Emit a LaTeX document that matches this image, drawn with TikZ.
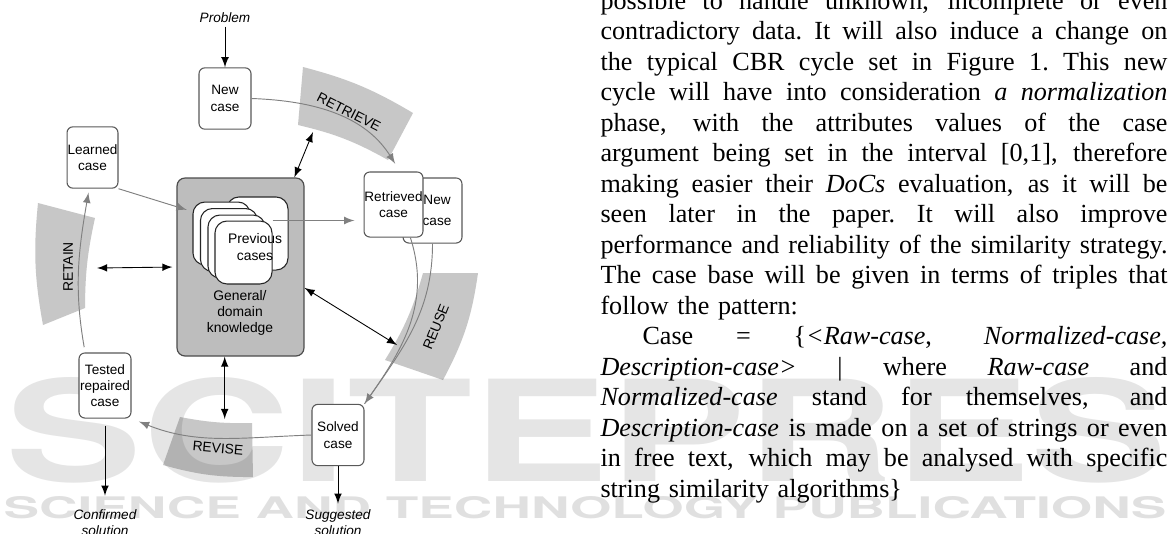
\documentclass[tikz,border=0pt]{standalone}
\usepackage{graphicx}
\usepackage{fontspec}
\setmainfont{Liberation Serif}
\newfontfamily\cyclefont{Liberation Sans}
\newfontfamily\markfont{TeX Gyre Heros}
\usetikzlibrary{arrows}

\newlength{\colw}
\setlength{\colw}{212.6pt}
% one justified line of the text column
\newcommand{\fullline}[1]{\makebox[\colw][s]{\spaceskip=0.25em plus 1em minus 0.04em\xspaceskip=\spaceskip #1}}

\tikzset{
  casebox/.style={draw=black!65, line width=0.4pt, rounded corners=2.2pt, fill=white,
    inner sep=0pt, align=center, font=\cyclefont\fontsize{5.1}{6.1}\selectfont,
    minimum width=19.5pt, minimum height=23pt},
  card/.style={draw=black!85, line width=0.4pt, rounded corners=4.5pt, fill=white,
    inner sep=0pt, minimum width=21.4pt, minimum height=23.6pt},
  band/.style={fill=black!22},
  phase/.style={inner sep=0pt, font=\cyclefont\fontsize{5.2}{6.1}\selectfont},
  cyc/.style={->, draw=black!50, line width=0.35pt},
  link/.style={<->, line width=0.33pt},
  flow/.style={->, line width=0.33pt},
  outtext/.style={inner sep=0pt, align=center, font=\cyclefont\itshape\fontsize{5.1}{6.1}\selectfont}
}

\begin{document}
\begin{tikzpicture}[x=0.375pt, y=-0.375pt, >=latex]
  \useasboundingbox[fill=white] (0,0) rectangle (1170,533);

  % phase bands
  \fill[band] (303,67) to[bend left=8] (413,113) -- (388,160) to[bend right=8] (298,125) -- cycle;
  \fill[band] (423,273) -- (478,273) to[bend left=10] (443,380) -- (385,360) to[bend right=8] (423,273) -- cycle;
  \fill[band] (180,417) to[bend right=6] (252,423) -- (253,477) to[bend left=8] (163,465) -- cycle;
  \fill[band] (38,203) -- (95,218) to[bend right=6] (85,308) -- (43,325) to[bend left=8] (38,203) -- cycle;

  % publisher mark
  \node[anchor=west, inner sep=0pt, text=black, text opacity=0.1] (mark) at (5,430)
    {\resizebox{487pt}{39pt}{\markfont\bfseries SCITEPRESS}};
  \node[anchor=west, inner sep=0pt, text=black, text opacity=0.12] (markline) at (3,508)
    {\resizebox{436pt}{8.25pt}{\markfont\bfseries SCIENCE AND TECHNOLOGY PUBLICATIONS}};

  % phase names
  \node[phase, rotate=-27] (retrievelbl) at (349,112) {RETRIEVE};
  \node[phase, rotate=68] (reuselbl) at (436,327) {REUSE};
  \node[phase, rotate=-5] (reviselbl) at (218,448) {REVISE};
  \node[phase, rotate=90] (retainlbl) at (68,267) {RETAIN};

  % knowledge base with the stack of cases
  \node[draw=black!70, fill=black!26, line width=0.45pt, rounded corners=3pt,
    minimum width=47.6pt, minimum height=66.75pt] (knowledge) at (240.5,267) {};
  \node[card, minimum width=22.9pt, minimum height=27.4pt] (prev0) at (257.5,233.5) {};
  \node[card] (prev1) at (221.5,233.5) {};
  \node[card] (prev2) at (229,240) {};
  \node[card] (prev3) at (236.5,246.5) {};
  \node[card] (prev4) at (243.5,252.5) {};
  \node[phase, align=center] (prevlbl) at (255,247) {Previous\\cases};
  \node[phase, align=center] (knowlbl) at (240,313) {General/\\domain\\knowledge};

  % cases around the cycle
  \node[casebox] (newcase) at (225,98.5) {New\\case};
  \node[casebox, minimum width=22.1pt, minimum height=24.4pt] (newcaseb) at (432.5,210.5)
    {\hspace*{3.4pt}New\\[2pt]\hspace*{3.4pt}case};
  \node[casebox, minimum width=22.1pt, minimum height=24.4pt] (retrieved) at (393.5,204.5) {Retrieved\\case};
  \node[casebox] (solved) at (338,435) {Solved\\case};
  \node[casebox, minimum height=24.4pt] (tested) at (105,385.5) {Tested\\repaired\\case};
  \node[casebox, minimum width=19.1pt] (learned) at (92.5,157.5) {Learned\\case};

  \node[outtext, anchor=base] (problem) at (225,22) {Problem};
  \node[outtext, anchor=north] (suggested) at (338,509) {Suggested\\solution};
  \node[outtext, anchor=north] (confirmed) at (105,509) {Confirmed\\solution};

  % free ends of the knowledge links
  \coordinate (retrieveend) at (313,132);
  \coordinate (reuseend) at (397,345);
  \coordinate (retainend) at (97,268);
  \coordinate (reviseend) at (225,419);

  \draw[flow, shorten <=1.5pt] (problem) -- (newcase);
  \draw[flow, shorten <=2.6pt, shorten >=5pt] (tested) -- (confirmed);
  \draw[flow, shorten >=2pt] (solved) -- (suggested);

  \draw[link] (knowledge.59) -- (retrieveend);
  \draw[link] (knowledge.-18) -- (reuseend);
  \draw[link, shorten <=1.5pt] (knowledge.west) -- (retainend);
  \draw[link] (knowledge.-100) -- (knowledge.-100 |- reviseend);

  % the cycle
  \draw[cyc, shorten >=3.4pt] (newcase.east) to[out=-2, in=122] (retrieved.79);
  \draw[cyc, shorten >=2.2pt] (learned.south east) -- (prev1.143);
  \draw[cyc, shorten >=3.4pt] (prev4.north east) -- (prev4.north east -| retrieved.west);
  \draw[draw=black!50, line width=0.35pt] (newcaseb.south) to[out=-90, in=55] (solved.north east);
  \draw[cyc] (retrieved.-63) to[out=-72, in=55] (solved.north east);
  \draw[cyc, shorten >=3pt] (solved.west) to[out=182, in=-22] (tested.south east);
  \draw[cyc, shorten <=2pt, shorten >=1.5pt] (tested.121) to[out=100, in=-100] (learned.-96);

  % text column
  \node[anchor=base west, inner sep=0pt, text width=\colw, font=\fontsize{9.8}{11.44}\selectfont] (para) at (600,9) {%
    \fullline{possible to handle unknown, incomplete or even}\\
    \fullline{contradictory data. It will also induce a change on}\\
    \fullline{the typical CBR cycle set in Figure 1. This new}\\
    \fullline{cycle will have into consideration \emph{a normalization}}\\
    \fullline{phase, with the attributes values of the case}\\
    \fullline{argument being set in the interval [0,1], therefore}\\
    \fullline{making easier their \emph{DoCs} evaluation, as it will be}\\
    \fullline{seen later in the paper. It will also improve}\\
    \fullline{performance and reliability of the similarity strategy.}\\
    \fullline{The case base will be given in terms of triples that}\\
    follow the pattern:\\
    \fullline{\hspace*{15.75pt}Case = \{\emph{<Raw-case}, \emph{Normalized-case,}}\\
    \fullline{\emph{Description-case>} \textbar{} where \emph{Raw-case} and}\\
    \fullline{\emph{Normalized-case} stand for themselves, and}\\
    \fullline{\emph{Description-case} is made on a set of strings or even}\\
    \fullline{in free text, which may be analysed with specific}\\
    string similarity algorithms\}};
\end{tikzpicture}
\end{document}
